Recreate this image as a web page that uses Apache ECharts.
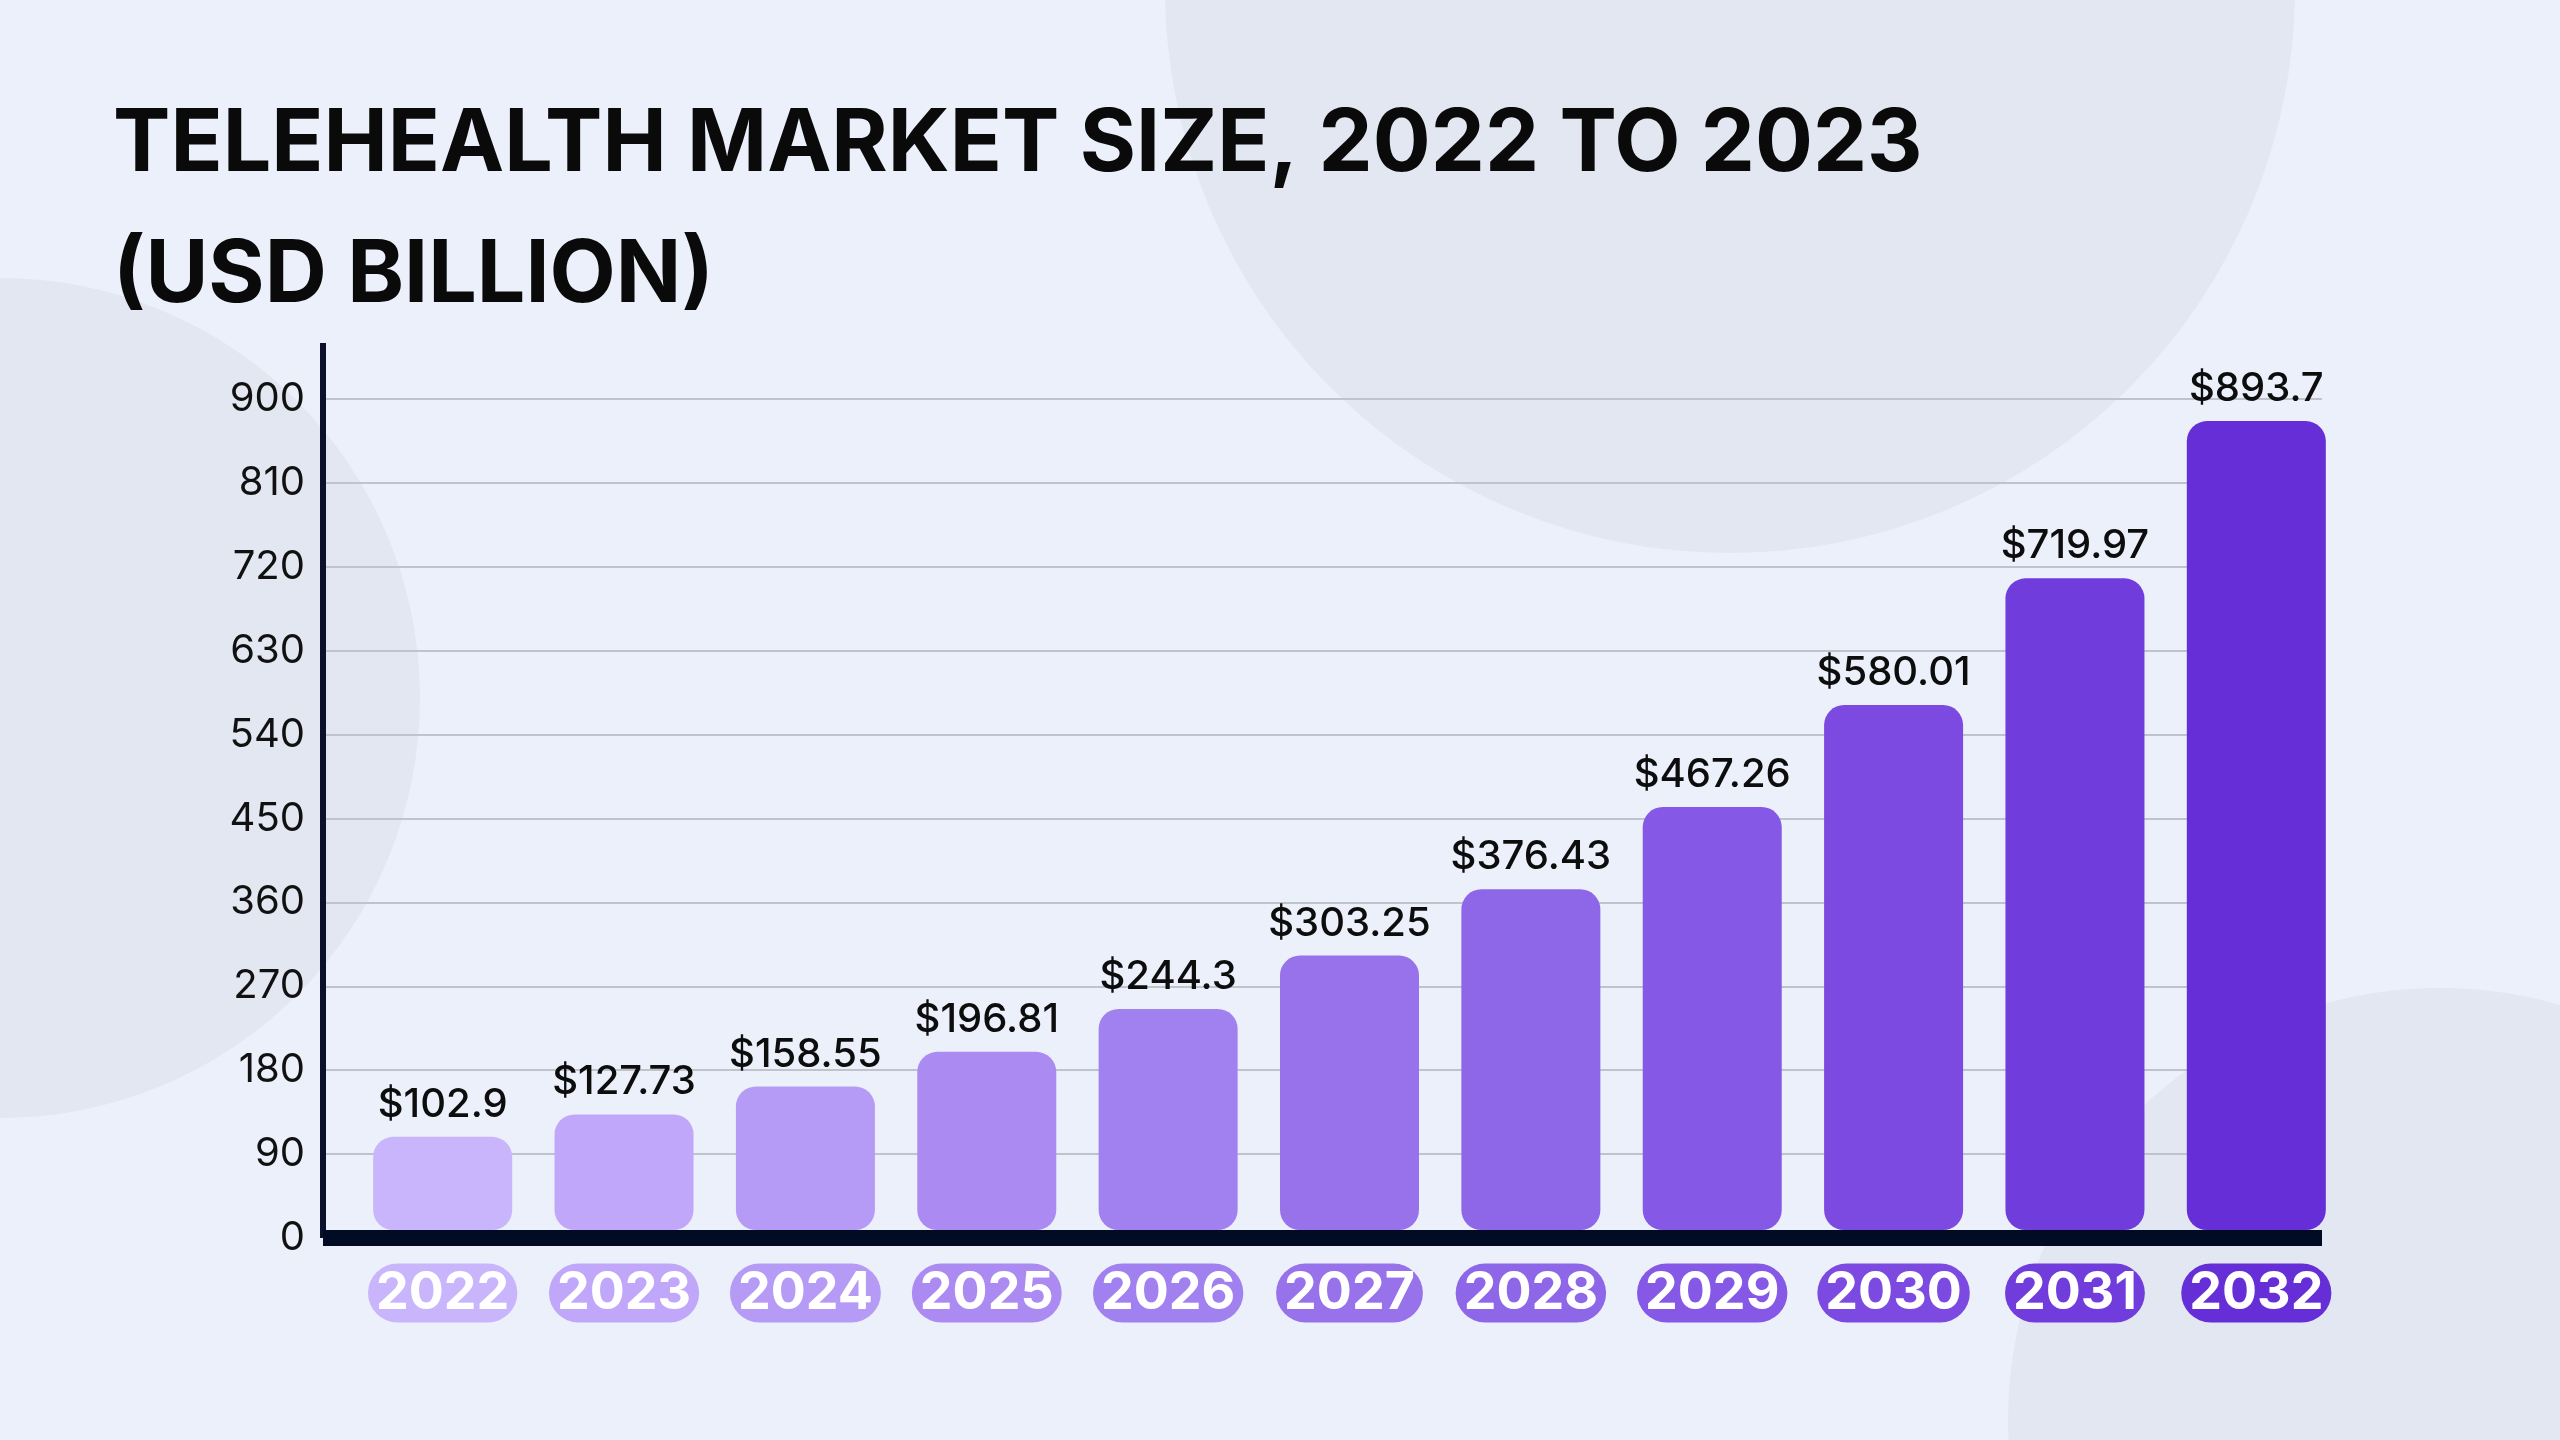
<!DOCTYPE html>
<html>
<head>
<meta charset="utf-8">
<script src="https://cdn.jsdelivr.net/npm/echarts@6/dist/echarts.min.js"></script>
<style>
html,body{margin:0;padding:0;width:100%;height:100%;overflow:hidden;background:#ebf0fb;}
#chart{width:2560px;height:1440px;}
</style>
</head>
<body>
<div id="chart"></div>
<script>
// ---- data ----
var years = ['2022','2023','2024','2025','2026','2027','2028','2029','2030','2031','2032'];
var marketSize = [102.9, 127.73, 158.55, 196.81, 244.3, 303.25, 376.43, 467.26, 580.01, 719.97, 893.7];
var titleLines = ['TELEHEALTH MARKET SIZE, 2022 TO 2023', '(USD BILLION)'];

// ---- styles ----
var palette = ['#c9b5fc','#c0a7f9','#b69bf6','#ab8bf2','#a181ef','#9872ea','#8e66e8','#8558e5','#7c4ae0','#713cdc','#652ed6'];
var FONT = 'Inter, "Noto Sans", sans-serif';

var chart = echarts.init(document.getElementById('chart'), null, {renderer:'canvas'});

var rich = {};
palette.forEach(function(c, i){
  rich['c' + i] = {
    backgroundColor: c,
    color: '#ffffff',
    fontFamily: FONT,
    fontWeight: 'bold',
    fontSize: 52,
    lineHeight: 54,
    padding: [4, 8, 3, 8],
    borderRadius: 30
  };
});

var gridColors = [];
for (var k = 0; k < 11; k++) gridColors.push('#bfc3cc');
gridColors.push('rgba(0,0,0,0)');

var option = {
  backgroundColor: '#ebf0fb',
  animation: false,
  title: {
    text: titleLines.join('\n'),
    left: 108,
    top: 75,
    textStyle: {
      fontFamily: FONT,
      fontWeight: 'bold',
      fontSize: 86,
      lineHeight: 131,
      color: '#0a0a0a'
    }
  },
  graphic: [
    {type:'circle', z:-10, shape:{cx:1730, cy:-12, r:565}, style:{fill:'#e2e7f2'}},
    {type:'circle', z:-10, shape:{cx:0, cy:698, r:420}, style:{fill:'#e2e7f2'}},
    {type:'circle', z:-10, shape:{cx:2440, cy:1420, r:432}, style:{fill:'#e2e7f2'}}
  ],
  grid: [
    {left: 323, right: 238, top: 343, bottom: 202, containLabel: false},
    {left: 352, right: 213, top: 343, bottom: 210, containLabel: false}
  ],
  xAxis: [
    {
      type: 'category', gridIndex: 0, data: years,
      axisLine: {show: true, lineStyle: {color: '#020b24', width: 16, cap: 'butt'}},
      axisTick: {show: false}, axisLabel: {show: false}, splitLine: {show: false}
    },
    {
      type: 'category', gridIndex: 1, data: years,
      axisLine: {show: false}, axisTick: {show: false},
      axisLabel: {
        margin: 36,
        formatter: function(v, i){ return '{c' + i + '|' + v + '}'; },
        rich: rich
      }
    }
  ],
  yAxis: [
    {
      type: 'value', gridIndex: 0, min: 0, max: 960, interval: 90,
      axisLine: {show: true, lineStyle: {color: '#0a1128', width: 6, cap: 'butt'}},
      axisTick: {show: false},
      axisLabel: {
        showMaxLabel: false, margin: 18,
        fontFamily: FONT, fontSize: 40, color: '#111111'
      },
      splitLine: {show: true, lineStyle: {color: gridColors, width: 2}}
    },
    {
      type: 'value', gridIndex: 1, min: 0, max: 980,
      axisLine: {show: false}, axisTick: {show: false},
      axisLabel: {show: false}, splitLine: {show: false}
    }
  ],
  series: [
    {
      type: 'bar', xAxisIndex: 1, yAxisIndex: 1,
      data: marketSize.map(function(v, i){
        return {value: v, itemStyle: {color: palette[i]}};
      }),
      barWidth: 139,
      itemStyle: {borderRadius: 20},
      label: {
        show: true, position: 'top', distance: 12,
        fontFamily: FONT, fontSize: 40, fontWeight: 500, color: '#0d0d0d',
        formatter: function(p){ return '$' + p.value; }
      },
      z: 3
    }
  ]
};
chart.setOption(option);
</script>
</body>
</html>
